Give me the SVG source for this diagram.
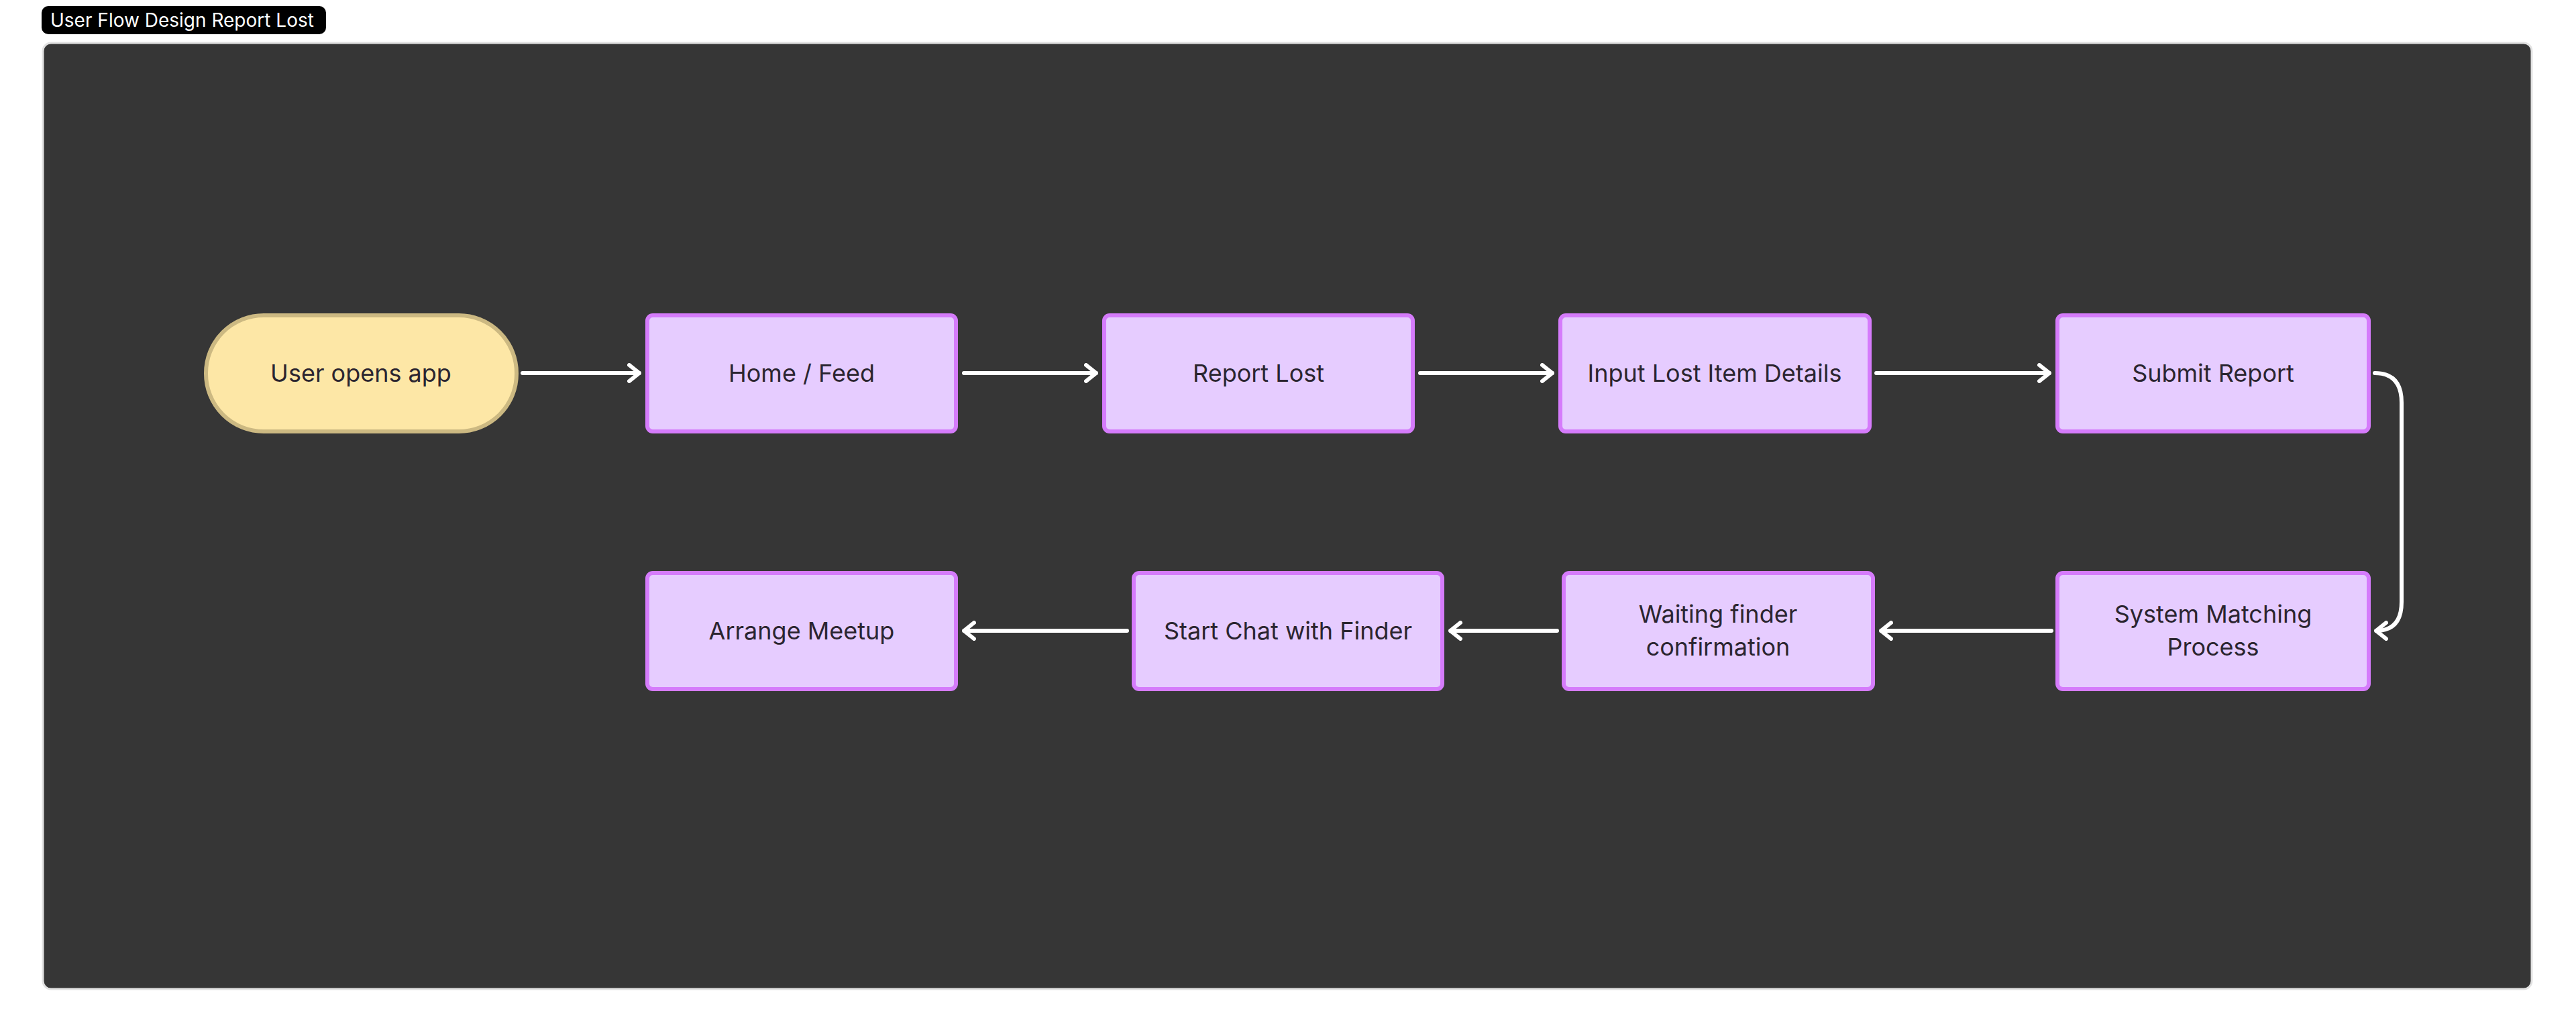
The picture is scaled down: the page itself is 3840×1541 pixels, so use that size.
<svg xmlns="http://www.w3.org/2000/svg" width="3840" height="1541" viewBox="0 0 3840 1541">
<defs>
<style>
.box{fill:#E6CCFF;stroke:#D57BFB;stroke-width:6}
.lbl{font-family:Inter,"Liberation Sans",sans-serif;font-size:36px;fill:#2B2530;text-anchor:middle}
.con{fill:none;stroke:#FFFFFF;stroke-width:6;stroke-linecap:round;stroke-linejoin:round}
</style>
<marker id="ah" viewBox="0 0 20 30" refX="18" refY="15" markerWidth="20" markerHeight="30" markerUnits="userSpaceOnUse" orient="auto">
<path d="M3,3 L18,15 L3,27" fill="none" stroke="#FFFFFF" stroke-width="6" stroke-linecap="round" stroke-linejoin="round"/>
</marker>
</defs>
<rect width="3840" height="1541" fill="#FFFFFF"/>
<rect x="62" y="9" width="424" height="42" rx="10" fill="#000000"/>
<text x="75" y="40" font-family="Inter,'Liberation Sans',sans-serif" font-size="28" fill="#FFFFFF">User Flow  Design Report Lost</text>
<rect x="64" y="64" width="3710" height="1410" rx="12" fill="#363636" stroke="#E2E2E2" stroke-width="3"/>
<g id="n1"><rect x="307" y="470" width="463" height="173" rx="86" fill="#FDE7A6" stroke="#CCB982" stroke-width="6"/><text class="lbl" x="538" y="569">User opens app</text></g>
<g id="n2"><rect class="box" x="965" y="470" width="460" height="173" rx="8"/><text class="lbl" x="1195" y="569">Home / Feed</text></g>
<g id="n3"><rect class="box" x="1646" y="470" width="460" height="173" rx="8"/><text class="lbl" x="1876" y="569">Report Lost</text></g>
<g id="n4"><rect class="box" x="2326" y="470" width="461" height="173" rx="8"/><text class="lbl" x="2556" y="569">Input Lost Item Details</text></g>
<g id="n5"><rect class="box" x="3067" y="470" width="464" height="173" rx="8"/><text class="lbl" x="3299" y="569">Submit Report</text></g>
<g id="n6"><rect class="box" x="3067" y="854" width="464" height="173" rx="8"/><text class="lbl" x="3299" y="928">System Matching</text><text class="lbl" x="3299" y="977">Process</text></g>
<g id="n7"><rect class="box" x="2331" y="854" width="461" height="173" rx="8"/><text class="lbl" x="2561" y="928">Waiting finder</text><text class="lbl" x="2561" y="977">confirmation</text></g>
<g id="n8"><rect class="box" x="1690" y="854" width="460" height="173" rx="8"/><text class="lbl" x="1920" y="953">Start Chat with Finder</text></g>
<g id="n9"><rect class="box" x="965" y="854" width="460" height="173" rx="8"/><text class="lbl" x="1195" y="953">Arrange Meetup</text></g>
<g id="connectors">
<path class="con" marker-end="url(#ah)" d="M779,556 L953,556"/>
<path class="con" marker-end="url(#ah)" d="M1437,556 L1634,556"/>
<path class="con" marker-end="url(#ah)" d="M2117,556 L2314,556"/>
<path class="con" marker-end="url(#ah)" d="M2797,556 L3055,556"/>
<path class="con" marker-end="url(#ah)" d="M3540,556 Q3580,556 3580,600 L3580,897 Q3580,940 3542,940"/>
<path class="con" marker-end="url(#ah)" d="M3058,940 L2804,940"/>
<path class="con" marker-end="url(#ah)" d="M2321,940 L2162,940"/>
<path class="con" marker-end="url(#ah)" d="M1680,940 L1437,940"/>
</g>
</svg>
